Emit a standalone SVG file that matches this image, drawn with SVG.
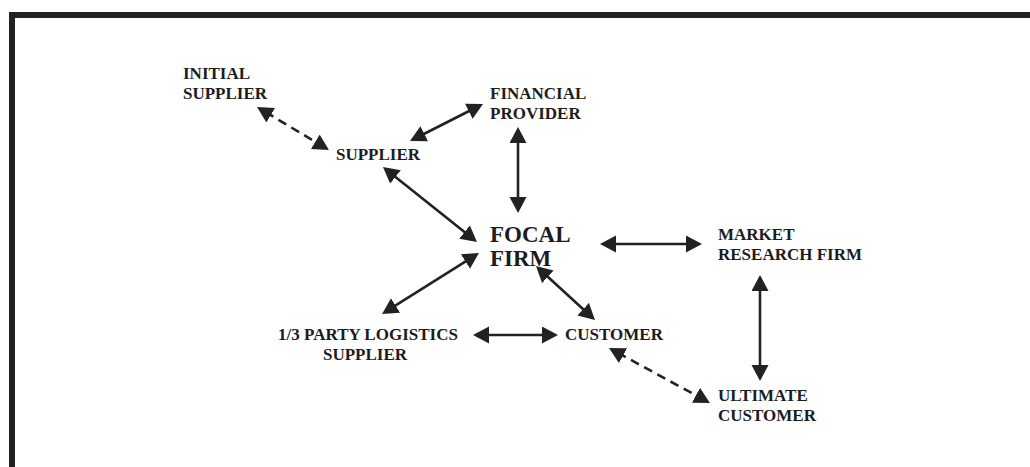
<svg xmlns="http://www.w3.org/2000/svg" width="1030" height="467" viewBox="0 0 1030 467">
  <style>
    .lbl { font-family: "Liberation Serif", "Times New Roman", serif; font-weight: bold; font-size: 17px; fill: #1c1c1c; }
    .big { font-size: 23px; }
    .conn { stroke: #222; stroke-width: 2.6; fill: none; marker-start: url(#head); marker-end: url(#head); }
    .dash { stroke-dasharray: 9 6; }
    .frame { stroke: #222; stroke-width: 6; fill: none; }
  </style>
  <defs>
    <marker id="head" markerUnits="userSpaceOnUse" markerWidth="18" markerHeight="18" refX="6" refY="8.5" orient="auto-start-reverse">
      <path d="M0,0 L16,8.5 L0,17 Z" fill="#222"/>
    </marker>
  </defs>

  <rect width="1030" height="467" fill="#fff"/>

  <!-- open frame: top and left edges -->
  <path class="frame" d="M12,467 L12,15 L1030,15"/>

  <g id="connectors">
    <line class="conn dash" x1="265.6" y1="112.1" x2="320.4" y2="144.9"/>
    <line class="conn" x1="418.9" y1="136.5" x2="474.1" y2="108.5"/>
    <line class="conn" x1="518" y1="137" x2="518" y2="203"/>
    <line class="conn" x1="390.8" y1="173.2" x2="469.2" y2="235.8"/>
    <line class="conn" x1="610" y1="244" x2="692" y2="244"/>
    <line class="conn" x1="543.4" y1="272.8" x2="587.6" y2="313.2"/>
    <line class="conn" x1="470.5" y1="258.3" x2="390.5" y2="308.7"/>
    <line class="conn" x1="483" y1="335" x2="548" y2="335"/>
    <line class="conn" x1="760" y1="285" x2="760" y2="371"/>
    <line class="conn dash" x1="617.8" y1="352.8" x2="701.2" y2="398.2"/>
  </g>

  <g id="initial-supplier">
    <text class="lbl" x="183" y="79">INITIAL</text>
    <text class="lbl" x="183" y="99">SUPPLIER</text>
  </g>
  <g id="financial-provider">
    <text class="lbl" x="490" y="99">FINANCIAL</text>
    <text class="lbl" x="490" y="119">PROVIDER</text>
  </g>
  <g id="supplier">
    <text class="lbl" x="336" y="160">SUPPLIER</text>
  </g>
  <g id="focal-firm">
    <text class="lbl big" x="490" y="242">FOCAL</text>
    <text class="lbl big" x="490" y="266">FIRM</text>
  </g>
  <g id="market-research-firm">
    <text class="lbl" x="718" y="240">MARKET</text>
    <text class="lbl" x="718" y="260">RESEARCH FIRM</text>
  </g>
  <g id="logistics-supplier">
    <text class="lbl" x="368" y="340" text-anchor="middle">1/3 PARTY LOGISTICS</text>
    <text class="lbl" x="365" y="360" text-anchor="middle">SUPPLIER</text>
  </g>
  <g id="customer">
    <text class="lbl" x="565" y="340">CUSTOMER</text>
  </g>
  <g id="ultimate-customer">
    <text class="lbl" x="718" y="401">ULTIMATE</text>
    <text class="lbl" x="718" y="421">CUSTOMER</text>
  </g>
</svg>
